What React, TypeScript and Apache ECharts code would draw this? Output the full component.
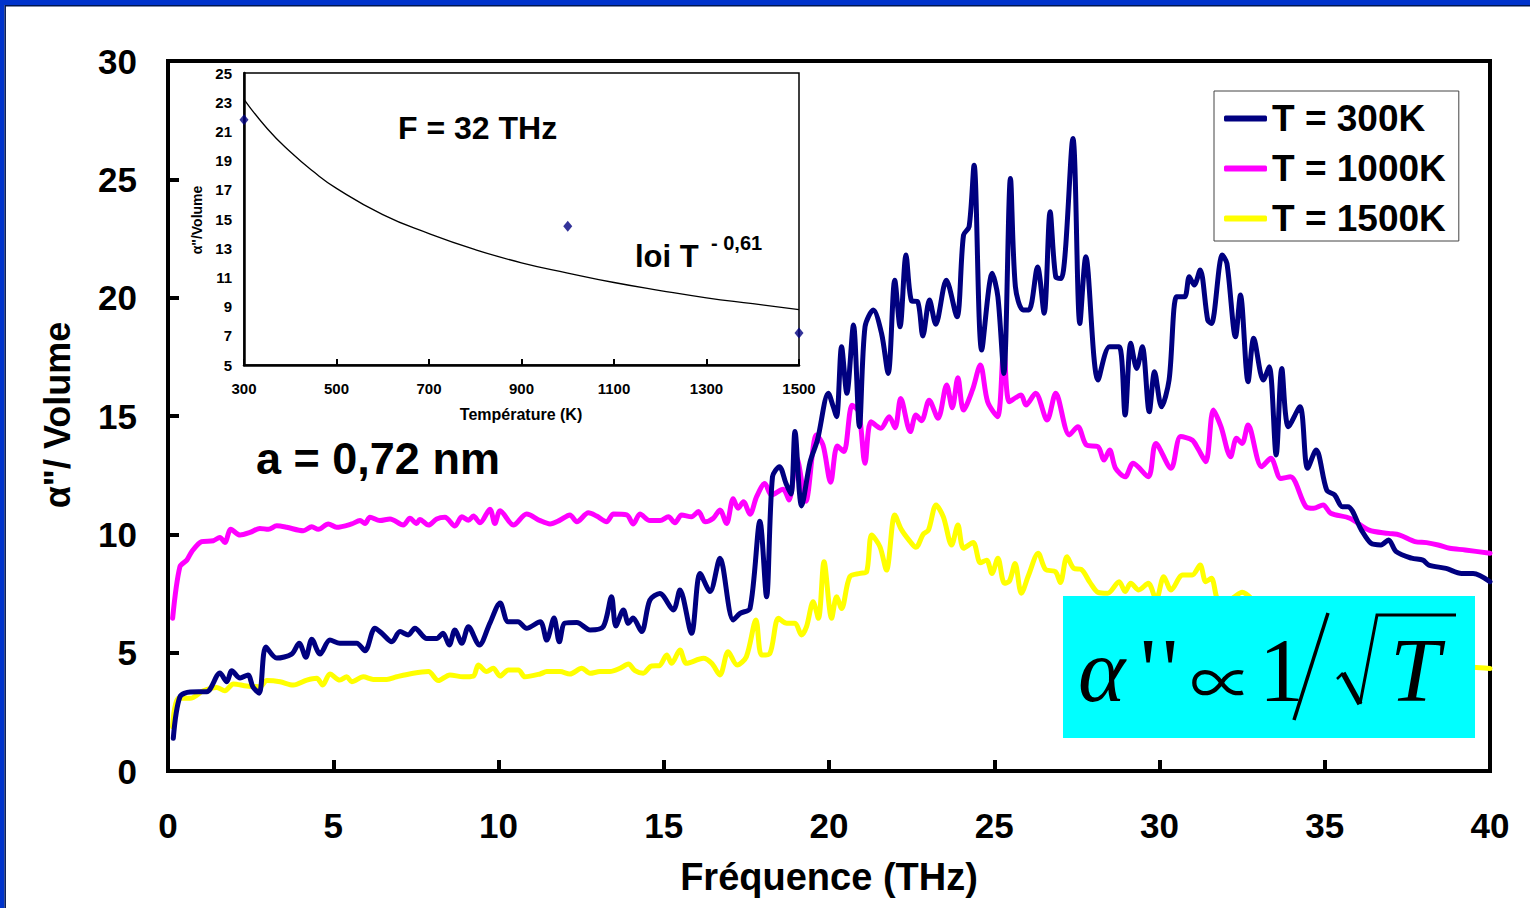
import React, { useEffect, useRef } from "react";
import * as echarts from "echarts";

const FONT = '"Liberation Sans", Arial, sans-serif';
const SERIF = '"Liberation Serif", "DejaVu Serif", serif';

const seriesNames = ["T = 300K", "T = 1000K", "T = 1500K"];
const seriesColors = ["#000080", "#ff00ff", "#ffff00"];

// Fréquence (THz), α''/Volume
const t300: [number, number][] = [
  [0.16, 1.38], [0.36, 3.13], [0.67, 3.34], [1.17, 3.35], [1.57, 4.14], [1.78, 3.77], [1.93, 4.24], [2.18, 3.93],
  [2.42, 4.06], [2.57, 3.55], [2.76, 3.29], [2.96, 5.24], [3.29, 4.77], [3.74, 4.94], [3.97, 5.4], [4.17, 4.81],
  [4.35, 5.57], [4.6, 4.94], [4.9, 5.53], [5.2, 5.4], [5.71, 5.4], [5.96, 5.08], [6.26, 6.03], [6.47, 5.82],
  [6.77, 5.46], [7.02, 5.89], [7.27, 5.75], [7.47, 6.03], [7.83, 5.6], [8.13, 5.6], [8.32, 5.82], [8.51, 5.32],
  [8.68, 5.96], [8.89, 5.4], [9.09, 6.1], [9.42, 5.32], [9.74, 6.25], [10.05, 7.1], [10.29, 6.31], [10.59, 6.31],
  [10.85, 6.03], [11.26, 6.31], [11.46, 5.53], [11.68, 6.46], [11.84, 5.46], [12.01, 6.25], [12.37, 6.27], [12.77, 5.96],
  [13.17, 6.1], [13.42, 7.36], [13.55, 6.13], [13.78, 6.8], [13.93, 6.24], [14.07, 6.46], [14.33, 5.89], [14.58, 7.22],
  [14.88, 7.5], [15.29, 6.8], [15.49, 7.65], [15.84, 5.82], [16.1, 8.35], [16.4, 7.58], [16.7, 8.99], [17.1, 6.38],
  [17.31, 6.66], [17.61, 6.87], [17.91, 10.55], [18.11, 7.36], [18.29, 12.43], [18.5, 12.86], [18.7, 12.15], [18.85, 11.7],
  [18.97, 14.34], [19.17, 11.2], [19.43, 13.07], [19.65, 13.98], [19.98, 15.96], [20.13, 15.39], [20.23, 14.97], [20.38, 17.93],
  [20.54, 15.96], [20.74, 18.84], [20.92, 14.55], [21.09, 18.77], [21.34, 19.48], [21.59, 18.49], [21.79, 16.8], [21.99, 20.74],
  [22.15, 18.77], [22.33, 21.8], [22.5, 19.86], [22.68, 19.83], [22.84, 18.38], [23.04, 19.9], [23.23, 18.88], [23.55, 20.74],
  [23.87, 19.19], [24.07, 22.64], [24.24, 23.0], [24.39, 25.6], [24.62, 17.79], [24.94, 21.03], [25.11, 20.04], [25.29, 16.8],
  [25.49, 25.04], [25.64, 20.46], [25.87, 19.48], [26.05, 19.48], [26.31, 21.3], [26.51, 19.34], [26.69, 23.63], [26.86, 20.88],
  [27.03, 20.81], [27.38, 26.73], [27.59, 18.91], [27.77, 21.73], [28.14, 16.52], [28.49, 17.93], [28.78, 17.93], [28.96, 15.04],
  [29.13, 18.07], [29.31, 17.01], [29.48, 17.93], [29.69, 15.18], [29.85, 16.87], [30.06, 15.39], [30.29, 16.52], [30.52, 20.04],
  [30.76, 20.04], [30.9, 20.88], [31.05, 20.53], [31.23, 21.17], [31.46, 19.05], [31.57, 18.91], [31.9, 21.8], [32.04, 21.45],
  [32.3, 18.35], [32.45, 20.11], [32.68, 16.45], [32.85, 18.28], [33.14, 16.52], [33.32, 17.08], [33.53, 13.35], [33.7, 17.01],
  [33.9, 14.55], [34.25, 15.39], [34.48, 12.79], [34.74, 13.56], [35.06, 11.87], [35.3, 11.66], [35.53, 11.17], [35.7, 11.17],
  [36.11, 10.18], [36.4, 9.62], [36.7, 9.55], [36.93, 9.76], [37.16, 9.27], [37.63, 8.99], [37.97, 8.91], [38.15, 8.7],
  [38.67, 8.56], [39.14, 8.35], [39.49, 8.35], [40, 8.0],
];

const t1000: [number, number][] = [
  [0.14, 6.45], [0.36, 8.63], [0.57, 8.91], [0.72, 9.27], [1.02, 9.69], [1.37, 9.73], [1.57, 9.87], [1.72, 9.65],
  [1.9, 10.21], [2.18, 9.97], [2.48, 10.08], [2.78, 10.25], [3.04, 10.21], [3.29, 10.36], [3.59, 10.3], [4.09, 10.15],
  [4.35, 10.32], [4.55, 10.21], [4.85, 10.44], [5.1, 10.3], [5.56, 10.44], [5.81, 10.58], [5.96, 10.46], [6.11, 10.72],
  [6.41, 10.58], [6.72, 10.65], [7.12, 10.39], [7.32, 10.68], [7.52, 10.46], [7.62, 10.63], [7.88, 10.39], [8.13, 10.65],
  [8.38, 10.72], [8.68, 10.35], [8.89, 10.74], [9.09, 10.6], [9.24, 10.77], [9.44, 10.49], [9.74, 11.06], [9.89, 10.46],
  [10.05, 11.0], [10.45, 10.39], [10.85, 10.86], [11.26, 10.58], [11.56, 10.44], [11.86, 10.6], [12.16, 10.82], [12.37, 10.53],
  [12.72, 10.91], [12.97, 10.77], [13.27, 10.53], [13.48, 10.86], [13.88, 10.82], [14.08, 10.44], [14.28, 10.86], [14.58, 10.58],
  [14.89, 10.58], [15.14, 10.74], [15.34, 10.49], [15.54, 10.82], [15.84, 10.74], [16.05, 10.96], [16.25, 10.53], [16.5, 10.68],
  [16.7, 11.03], [16.9, 10.46], [17.1, 11.5], [17.25, 11.1], [17.41, 11.38], [17.61, 10.85], [17.81, 11.59], [18.06, 12.15],
  [18.26, 11.66], [18.61, 11.9], [18.79, 11.45], [19.02, 13.25], [19.3, 11.4], [19.62, 14.2], [19.82, 13.77], [20.05, 12.2],
  [20.25, 13.73], [20.45, 13.5], [20.7, 15.45], [20.9, 15.18], [21.09, 13.0], [21.27, 14.76], [21.57, 14.48], [21.82, 14.97],
  [22.0, 14.5], [22.17, 15.74], [22.46, 14.34], [22.63, 15.04], [22.8, 14.8], [23.03, 15.67], [23.3, 14.9], [23.56, 16.31],
  [23.73, 15.35], [23.9, 16.62], [24.07, 15.25], [24.34, 16.1], [24.58, 17.15], [24.8, 15.6], [25.1, 14.97], [25.29, 17.93],
  [25.46, 15.6], [25.81, 15.89], [25.96, 15.46], [26.25, 15.96], [26.6, 14.83], [26.86, 15.96], [27.27, 14.2], [27.53, 14.55],
  [27.79, 13.77], [28.14, 13.7], [28.32, 13.14], [28.49, 13.56], [28.67, 12.79], [28.96, 12.43], [29.2, 13.0], [29.66, 12.43],
  [29.89, 13.84], [30.35, 12.79], [30.64, 14.13], [30.99, 13.98], [31.16, 13.63], [31.4, 13.07], [31.63, 15.25], [31.86, 14.55],
  [32.15, 13.28], [32.33, 14.06], [32.5, 13.84], [32.68, 14.62], [33.09, 12.86], [33.37, 13.21], [33.67, 12.36], [33.96, 12.43],
  [34.43, 11.17], [34.66, 11.1], [34.95, 11.24], [35.18, 10.89], [35.76, 10.68], [36.34, 10.18], [36.93, 10.04], [37.27, 9.97],
  [37.73, 9.69], [38.08, 9.65], [38.43, 9.55], [38.78, 9.41], [39.25, 9.34], [40, 9.2],
];

const t1500: [number, number][] = [
  [0.14, 1.87], [0.31, 3.07], [0.67, 3.07], [1.07, 3.39], [1.47, 3.53], [1.72, 3.39], [1.98, 3.68], [2.38, 3.59],
  [2.78, 3.56], [2.99, 3.82], [3.39, 3.77], [3.79, 3.63], [4.2, 3.84], [4.5, 3.92], [4.68, 3.63], [4.9, 4.1],
  [5.2, 3.84], [5.41, 3.98], [5.56, 3.77], [5.91, 3.98], [6.21, 3.87], [6.62, 3.87], [6.92, 3.98], [7.42, 4.13],
  [7.88, 4.2], [8.18, 3.82], [8.53, 4.06], [8.93, 3.98], [9.24, 4.01], [9.39, 4.48], [9.64, 4.2], [9.84, 4.34],
  [10.05, 4.01], [10.3, 4.27], [10.6, 4.27], [10.8, 3.98], [11.26, 4.1], [11.46, 4.2], [11.86, 4.2], [12.16, 4.1],
  [12.52, 4.34], [12.77, 4.13], [13.07, 4.2], [13.37, 4.2], [13.68, 4.34], [13.93, 4.52], [14.13, 4.24], [14.38, 4.13],
  [14.63, 4.44], [14.86, 4.45], [15.09, 4.9], [15.24, 4.55], [15.49, 5.11], [15.69, 4.55], [16.2, 4.76], [16.45, 4.55],
  [16.7, 4.06], [16.95, 5.04], [17.22, 4.48], [17.5, 4.83], [17.79, 6.38], [17.96, 4.9], [18.21, 4.97], [18.47, 6.45],
  [18.72, 6.24], [18.97, 6.24], [19.17, 5.75], [19.32, 6.1], [19.52, 7.15], [19.68, 6.45], [19.85, 8.84], [20.08, 6.45],
  [20.23, 7.36], [20.38, 6.87], [20.63, 8.21], [20.94, 8.35], [21.14, 8.42], [21.29, 9.97], [21.54, 9.48], [21.74, 8.49],
  [21.99, 10.82], [22.19, 10.2], [22.45, 9.7], [22.63, 9.45], [22.85, 10.0], [23.01, 10.18], [23.24, 11.24], [23.46, 10.74],
  [23.71, 9.55], [23.9, 10.39], [24.07, 9.41], [24.36, 9.65], [24.58, 8.8], [24.77, 8.91], [24.93, 8.35], [25.11, 8.99],
  [25.31, 7.93], [25.46, 8.03], [25.63, 8.77], [25.82, 7.51], [26.04, 8.28], [26.33, 9.2], [26.55, 8.52], [26.85, 8.42],
  [27.0, 7.96], [27.2, 9.05], [27.41, 8.56], [27.63, 8.52], [27.9, 7.96], [28.14, 7.55], [28.43, 7.51], [28.78, 8.0],
  [28.96, 7.58], [29.13, 7.93], [29.37, 7.65], [29.66, 7.93], [29.9, 7.25], [30.13, 8.21], [30.35, 7.65], [30.7, 8.28],
  [30.99, 8.28], [31.23, 8.7], [31.4, 8.0], [31.57, 8.14], [31.8, 7.2], [32.2, 7.3], [32.5, 7.55], [33.0, 7.0],
  [33.5, 6.6], [34.0, 6.1], [34.5, 5.8], [35.0, 5.45], [35.5, 5.2], [36.0, 5.0], [36.5, 4.9], [37.0, 4.75],
  [37.5, 4.7], [38.0, 4.6], [38.5, 4.5], [39.0, 4.45], [39.5, 4.38], [40, 4.33],
];

// Inset: F = 32 THz
const insetTemps = [300, 1000, 1500];
const insetValues = [21.8, 14.5, 7.2];
const fitTemps = [300, 350, 400, 450, 500, 600, 700, 800, 900, 1000, 1100, 1200, 1300, 1400, 1500];
const fitValues = [23.2, 21.2, 19.6, 18.25, 17.1, 15.3, 14.0, 12.9, 12.0, 11.3, 10.65, 10.1, 9.6, 9.2, 8.8];

export default function App() {
  const ref = useRef<HTMLDivElement>(null);
  useEffect(() => {
    if (!ref.current) return;
    const chart = echarts.init(ref.current, undefined, { renderer: "svg" });
    const mainSeries = [t300, t1000, t1500].map((d, i) => ({
      name: seriesNames[i],
      type: "line",
      xAxisIndex: 0,
      yAxisIndex: 0,
      data: d,
      symbol: "none",
      showSymbol: false,
      smooth: 0.3,
      z: 3 - i * 0.1,
      itemStyle: { color: seriesColors[i] },
      lineStyle: { color: seriesColors[i], width: 5, cap: "round", join: "round" },
    }));
    const txt = (
      text: string, x: number, y: number, font: string,
      extra: Record<string, unknown> = {}, z = 101
    ) => ({
      type: "text", x, y, z,
      style: { text, font, fill: "#000", textAlign: "left", align: "left", verticalAlign: "middle", textVerticalAlign: "middle", ...extra },
    });
    chart.setOption({
      animation: false,
      backgroundColor: "#fff",
      grid: [
        { left: 168, top: 61, width: 1322, height: 710, show: true, borderColor: "#000", borderWidth: 4, backgroundColor: "transparent" },
        { left: 244, top: 73, width: 555, height: 292, show: true, borderColor: "#000", borderWidth: 1.5, backgroundColor: "#fff" },
      ],
      xAxis: [
        {
          type: "value", gridIndex: 0, min: 0, max: 40, interval: 5,
          axisLine: { lineStyle: { color: "#000", width: 4 } },
          axisTick: { inside: true, length: 11, lineStyle: { color: "#000", width: 4 } },
          axisLabel: { fontSize: 35, fontWeight: "bold", color: "#000", fontFamily: FONT, margin: 37 },
          splitLine: { show: false },
        },
        {
          type: "value", gridIndex: 1, min: 300, max: 1500, interval: 200,
          axisLine: { lineStyle: { color: "#000", width: 2.5 } },
          axisTick: { inside: true, length: 6, lineStyle: { color: "#000", width: 2 } },
          axisLabel: { fontSize: 15, fontWeight: "bold", color: "#000", fontFamily: FONT, margin: 16, formatter: (v: number) => String(v) },
          splitLine: { show: false },
        },
      ],
      yAxis: [
        {
          type: "value", gridIndex: 0, min: 0, max: 30, interval: 5,
          axisLine: { lineStyle: { color: "#000", width: 4 } },
          axisTick: { inside: true, length: 11, lineStyle: { color: "#000", width: 4 } },
          axisLabel: { fontSize: 35, fontWeight: "bold", color: "#000", fontFamily: FONT, margin: 31 },
          splitLine: { show: false },
        },
        {
          type: "value", gridIndex: 1, min: 5, max: 25, interval: 2,
          axisLine: { lineStyle: { color: "#000", width: 2.5 } },
          axisTick: { show: false },
          axisLabel: { fontSize: 15, fontWeight: "bold", color: "#000", fontFamily: FONT, margin: 12 },
          splitLine: { show: false },
        },
      ],
      legend: {
        data: seriesNames,
        orient: "vertical",
        left: 1214,
        top: 91,
        padding: [9, 13, 4, 10],
        itemGap: 13,
        itemWidth: 43,
        itemHeight: 6,
        icon: "roundRect",
        backgroundColor: "#fff",
        borderColor: "#444",
        borderWidth: 1,
        borderRadius: 0,
        textStyle: { fontSize: 37, fontWeight: "bold", color: "#000", fontFamily: FONT, lineHeight: 37 },
      },
      series: [
        ...mainSeries,
        {
          name: "loi", type: "line", xAxisIndex: 1, yAxisIndex: 1,
          data: fitTemps.map((t, i) => [t, fitValues[i]]),
          symbol: "none", smooth: true,
          lineStyle: { color: "#000", width: 1.3 },
        },
        {
          name: "points", type: "scatter", xAxisIndex: 1, yAxisIndex: 1,
          data: insetTemps.map((t, i) => [t, insetValues[i]]),
          symbol: "diamond", symbolSize: [9, 11], clip: false,
          itemStyle: { color: "#000080" },
        },
      ],
      graphic: [
        { type: "rect", z: 100, shape: { x: 0, y: 0, width: 1530, height: 5 }, style: { fill: "#0033cc" } },
        { type: "rect", z: 100, shape: { x: 0, y: 0, width: 4.5, height: 908 }, style: { fill: "#0033cc" } },
        { type: "line", z: 100, shape: { x1: 5, y1: 5.7, x2: 1530, y2: 5.7 }, style: { stroke: "#001650", lineWidth: 1.5 } },
        { type: "line", z: 100, shape: { x1: 5.2, y1: 5, x2: 5.2, y2: 908 }, style: { stroke: "#001650", lineWidth: 1.5 } },
        txt("Fréquence (THz)", 829, 877, `bold 38px ${FONT}`, { textAlign: "center", align: "center" }),
        {
          type: "text", x: 57, y: 415, rotation: Math.PI / 2, z: 101,
          style: { text: "α\"/ Volume", font: `bold 36px ${FONT}`, fill: "#000", textAlign: "center", align: "center", verticalAlign: "middle", textVerticalAlign: "middle" },
        },
        txt("a = 0,72 nm", 256, 458, `bold 45px ${FONT}`),
        txt("F = 32 THz", 398, 128, `bold 32px ${FONT}`),
        txt("loi T", 635, 256, `bold 31px ${FONT}`),
        txt("- 0,61", 711, 243, `bold 20px ${FONT}`),
        txt("Température (K)", 521, 414, `bold 16px ${FONT}`, { textAlign: "center", align: "center" }),
        {
          type: "text", x: 197, y: 220, rotation: Math.PI / 2, z: 101,
          style: { text: "α\"/Volume", font: `bold 14px ${FONT}`, fill: "#000", textAlign: "center", align: "center", verticalAlign: "middle", textVerticalAlign: "middle" },
        },
        // formula box
        { type: "rect", z: 100, shape: { x: 1063, y: 596, width: 412, height: 142 }, style: { fill: "#00ffff" } },
        txt("α", 1078, 670, `italic 90px ${SERIF}`),
        txt("'", 1140, 670, `90px ${SERIF}`),
        txt("'", 1162, 670, `90px ${SERIF}`),
        txt("∝", 1190, 678, `63px "Noto Sans CJK JP", ${SERIF}`),
        txt("1", 1259, 670, `90px ${SERIF}`),
        { type: "line", z: 101, shape: { x1: 1328, y1: 613, x2: 1294, y2: 720 }, style: { stroke: "#000", lineWidth: 3.5 } },
        { type: "polyline", z: 101, shape: { points: [[1337, 679], [1343, 673]] }, style: { stroke: "#000", lineWidth: 2.5, fill: null } },
        { type: "polyline", z: 101, shape: { points: [[1343, 673], [1360, 704]] }, style: { stroke: "#000", lineWidth: 5.5, fill: null } },
        { type: "polyline", z: 101, shape: { points: [[1360, 704], [1377, 615], [1456, 615]] }, style: { stroke: "#000", lineWidth: 3, fill: null } },
        txt("T", 1390, 670, `italic 90px ${SERIF}`),
      ],
    });
    return () => chart.dispose();
  }, []);
  return (
    <div
      ref={ref}
      style={{ position: "fixed", left: 0, top: 0, width: 1530, height: 908, background: "#fff" }}
    />
  );
}
